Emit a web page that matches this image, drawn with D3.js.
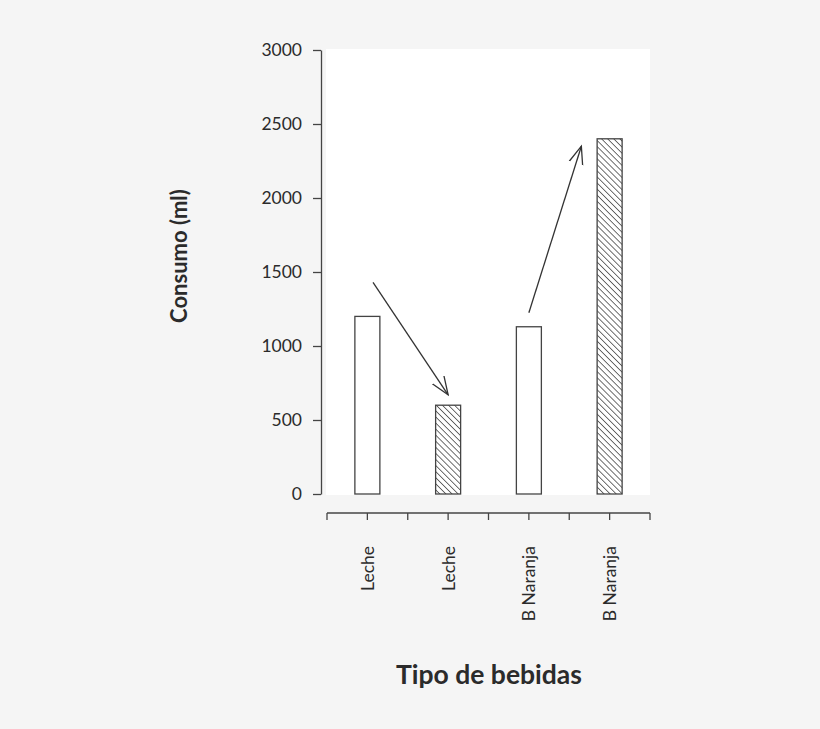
<!DOCTYPE html>
<html>
<head>
<meta charset="utf-8">
<script src="https://cdn.jsdelivr.net/npm/d3@7"></script>
<style>
  body { margin: 0; background: #f5f5f5; }
  text { font-family: Lato, "Open Sans", sans-serif; fill: #2b2b2b; }
</style>
</head>
<body>
<div id="container"></div>
<script>
// chart data
let categories = ["Leche", "Leche", "B Naranja", "B Naranja"];
let consumo = [1200, 600, 1130, 2400];
let hatched = [false, true, false, true];
let yTicks = [0, 500, 1000, 1500, 2000, 2500, 3000];

// arrows: position along category axis (0 = first bar) and value
let arrowFrom = [[0.07, 1430], [2.0, 1225]];
let arrowTo = [[1.0, 670], [2.65, 2350]];

let width = 820;
let height = 729;

let svg = d3.select("#container")
    .append("svg")
    .attr("width", width)
    .attr("height", height);

let defs = svg.append("defs");
let pat = defs.append("pattern")
    .attr("id", "hatch")
    .attr("patternUnits", "userSpaceOnUse")
    .attr("width", 4.3)
    .attr("height", 4.3)
    .attr("patternTransform", "rotate(-45)");
pat.append("rect").attr("width", 4.3).attr("height", 4.3).attr("fill", "white");
pat.append("line")
    .attr("x1", 0).attr("y1", 0).attr("x2", 0).attr("y2", 4.3)
    .attr("stroke", "#333").attr("stroke-width", 1.4);

defs.append("marker")
    .attr("id", "head")
    .attr("viewBox", "0 0 20 20")
    .attr("refX", 18).attr("refY", 10)
    .attr("markerWidth", 20).attr("markerHeight", 20)
    .attr("markerUnits", "userSpaceOnUse")
    .attr("orient", "auto")
    .append("path")
    .attr("d", "M0,3 L18,10 L0,17")
    .attr("fill", "none")
    .attr("stroke", "#333")
    .attr("stroke-width", 1.3);

let plotLeft = 327, plotRight = 650, plotTop = 50, plotBottom = 494;

let x = d3.scaleBand()
    .domain(d3.range(categories.length))
    .range([plotLeft, plotRight]);

let y = d3.scaleLinear()
    .domain([0, 3000])
    .range([plotBottom, plotTop]);

// maps category index (fractional) to centre position
let xPos = d3.scaleLinear()
    .domain([0, categories.length - 1])
    .range([x(0) + x.bandwidth() / 2, x(categories.length - 1) + x.bandwidth() / 2]);

// white plot area
svg.append("rect")
    .attr("x", plotLeft - 1)
    .attr("y", plotTop - 1)
    .attr("width", plotRight - plotLeft + 1)
    .attr("height", plotBottom - plotTop + 2)
    .attr("fill", "white");

// y axis
let yAxis = svg.append("g")
    .attr("transform", "translate(321,0)")
    .call(d3.axisLeft(y).tickValues(yTicks).tickFormat(d3.format("d"))
        .tickSize(8).tickPadding(11).tickSizeOuter(0));
yAxis.select(".domain").attr("stroke", "#444").attr("stroke-width", 1.3);
yAxis.selectAll(".tick line").attr("stroke", "#444").attr("stroke-width", 1.3);
yAxis.selectAll("text")
    .attr("font-size", 17.5)
    .attr("fill", "#2b2b2b")
    .attr("font-family", "Lato, sans-serif");

// x axis: ticks at band edges and centres
let xTickPos = [];
for (let i = 0; i < categories.length; i++) {
    xTickPos.push(x(i));
    xTickPos.push(x(i) + x.bandwidth() / 2);
}
xTickPos.push(plotRight);

let xAxis = svg.append("g");
xAxis.append("line")
    .attr("x1", plotLeft).attr("x2", plotRight)
    .attr("y1", 513).attr("y2", 513)
    .attr("stroke", "#444").attr("stroke-width", 1.3);
xAxis.selectAll(".xtick")
    .data(xTickPos)
    .enter()
    .append("line")
    .attr("x1", d => d).attr("x2", d => d)
    .attr("y1", 513).attr("y2", 520)
    .attr("stroke", "#444").attr("stroke-width", 1.3);

xAxis.selectAll(".xlabel")
    .data(categories)
    .enter()
    .append("text")
    .attr("transform", (d, i) => "translate(" + (x(i) + x.bandwidth() / 2 + 6.5) + ",546) rotate(-90)")
    .attr("text-anchor", "end")
    .attr("font-size", 17.5)
    .text(d => d);

// bars
let barW = 25;
svg.selectAll(".bar")
    .data(consumo)
    .enter()
    .append("rect")
    .attr("x", (d, i) => x(i) + x.bandwidth() / 2 - barW / 2)
    .attr("y", d => y(d))
    .attr("width", barW)
    .attr("height", d => y(0) - y(d))
    .attr("fill", (d, i) => hatched[i] ? "url(#hatch)" : "white")
    .attr("stroke", "#444")
    .attr("stroke-width", 1.3);

// arrows
svg.selectAll(".arrow")
    .data(arrowFrom)
    .enter()
    .append("line")
    .attr("x1", d => xPos(d[0]))
    .attr("y1", d => y(d[1]))
    .attr("x2", (d, i) => xPos(arrowTo[i][0]))
    .attr("y2", (d, i) => y(arrowTo[i][1]))
    .attr("stroke", "#333")
    .attr("stroke-width", 1.3)
    .attr("marker-end", "url(#head)");

// axis titles
svg.append("text")
    .attr("transform", "translate(187,256) rotate(-90)")
    .attr("text-anchor", "middle")
    .attr("font-size", 22)
    .attr("font-weight", "bold")
    .text("Consumo (ml)");

svg.append("text")
    .attr("x", 489)
    .attr("y", 684)
    .attr("text-anchor", "middle")
    .attr("font-size", 26.5)
    .attr("font-weight", "bold")
    .text("Tipo de bebidas");
</script>
</body>
</html>
